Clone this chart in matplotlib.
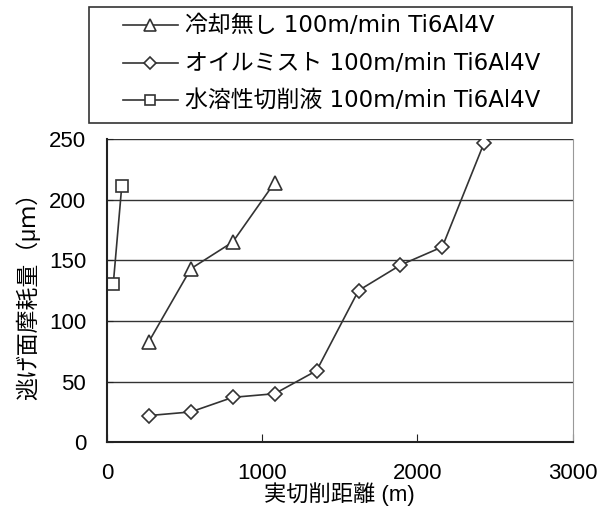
import matplotlib
matplotlib.use('Agg')
import matplotlib.pyplot as plt
from matplotlib.lines import Line2D
from matplotlib.patches import Rectangle

plt.rcParams['font.family'] = ['Liberation Sans', 'Noto Sans CJK JP']
plt.rcParams['font.size'] = 16

# data
dist_dry = [270, 540, 810, 1080]
wear_dry = [83, 143, 165, 214]
dist_mist = [270, 540, 810, 1080, 1350, 1620, 1890, 2160, 2430]
wear_mist = [22, 25, 37, 40, 59, 125, 146, 161, 247]
dist_wet = [40, 95]
wear_wet = [130, 211]

labels = ['冷却無し 100m/min Ti6Al4V',
          'オイルミスト 100m/min Ti6Al4V',
          '水溶性切削液 100m/min Ti6Al4V']
markers = ['^', 'D', 's']

line_col = '#333333'
W, H = 608, 524

fig = plt.figure(figsize=(6.08, 5.24), dpi=100)
ax = fig.add_axes([0.176, 0.156, 0.766, 0.579])

ax.plot(dist_dry, wear_dry, color=line_col, lw=1.2, marker='^', ms=10.5,
        mfc='white', mec=line_col, mew=1.2)
ax.plot(dist_mist, wear_mist, color=line_col, lw=1.2, marker='D', ms=7,
        mfc='white', mec=line_col, mew=1.2)
ax.plot(dist_wet, wear_wet, color=line_col, lw=1.2, marker='s', ms=8.5,
        mfc='white', mec=line_col, mew=1.2)

ax.set_xlim(0, 3000)
ax.set_ylim(0, 250)
ax.set_xticks([0, 1000, 2000, 3000])
ax.set_yticks([0, 50, 100, 150, 200, 250])
ax.yaxis.grid(True, color='#333333', lw=1)
ax.set_axisbelow(True)
ax.tick_params(axis='x', direction='in', length=6, pad=15, color='#222222')
ax.tick_params(axis='y', direction='in', length=4, pad=15, color='#222222')

ax.spines['top'].set_visible(False)
ax.spines['right'].set_color('#999999')
ax.spines['left'].set_linewidth(1.5)
ax.spines['bottom'].set_linewidth(1.5)
ax.spines['left'].set_color('#222222')
ax.spines['bottom'].set_color('#222222')

ax.set_xlabel('実切削距離 (m)', fontsize=16, labelpad=-1)
ax.set_ylabel('逃げ面摩耗量（μｍ）', fontsize=16.5, labelpad=6)

# legend box drawn by hand, above the plot
def fx(px):
    return px / W

def fy(py):
    return 1 - py / H

fig.add_artist(Rectangle((fx(89), fy(123)), fx(572) - fx(89), fy(7) - fy(123),
                         transform=fig.transFigure, fill=False,
                         edgecolor='#333333', lw=1.2))
row_y = [25, 63, 100]
for lab, mk, yy in zip(labels, markers, row_y):
    fig.add_artist(Line2D([fx(123), fx(178)], [fy(yy), fy(yy)],
                          transform=fig.transFigure, color=line_col, lw=1.2))
    ms = {'^': 8, 'D': 6, 's': 7}[mk]
    fig.add_artist(Line2D([fx(150)], [fy(yy)], transform=fig.transFigure,
                          marker=mk, ms=ms, mfc='white', mec=line_col, mew=1.2,
                          linestyle='none'))
    fig.text(fx(185), fy(yy), lab, va='center', ha='left', fontsize=16.5,
             family=['DejaVu Sans', 'Noto Sans CJK JP'])

fig.savefig('out.png', dpi=100)
